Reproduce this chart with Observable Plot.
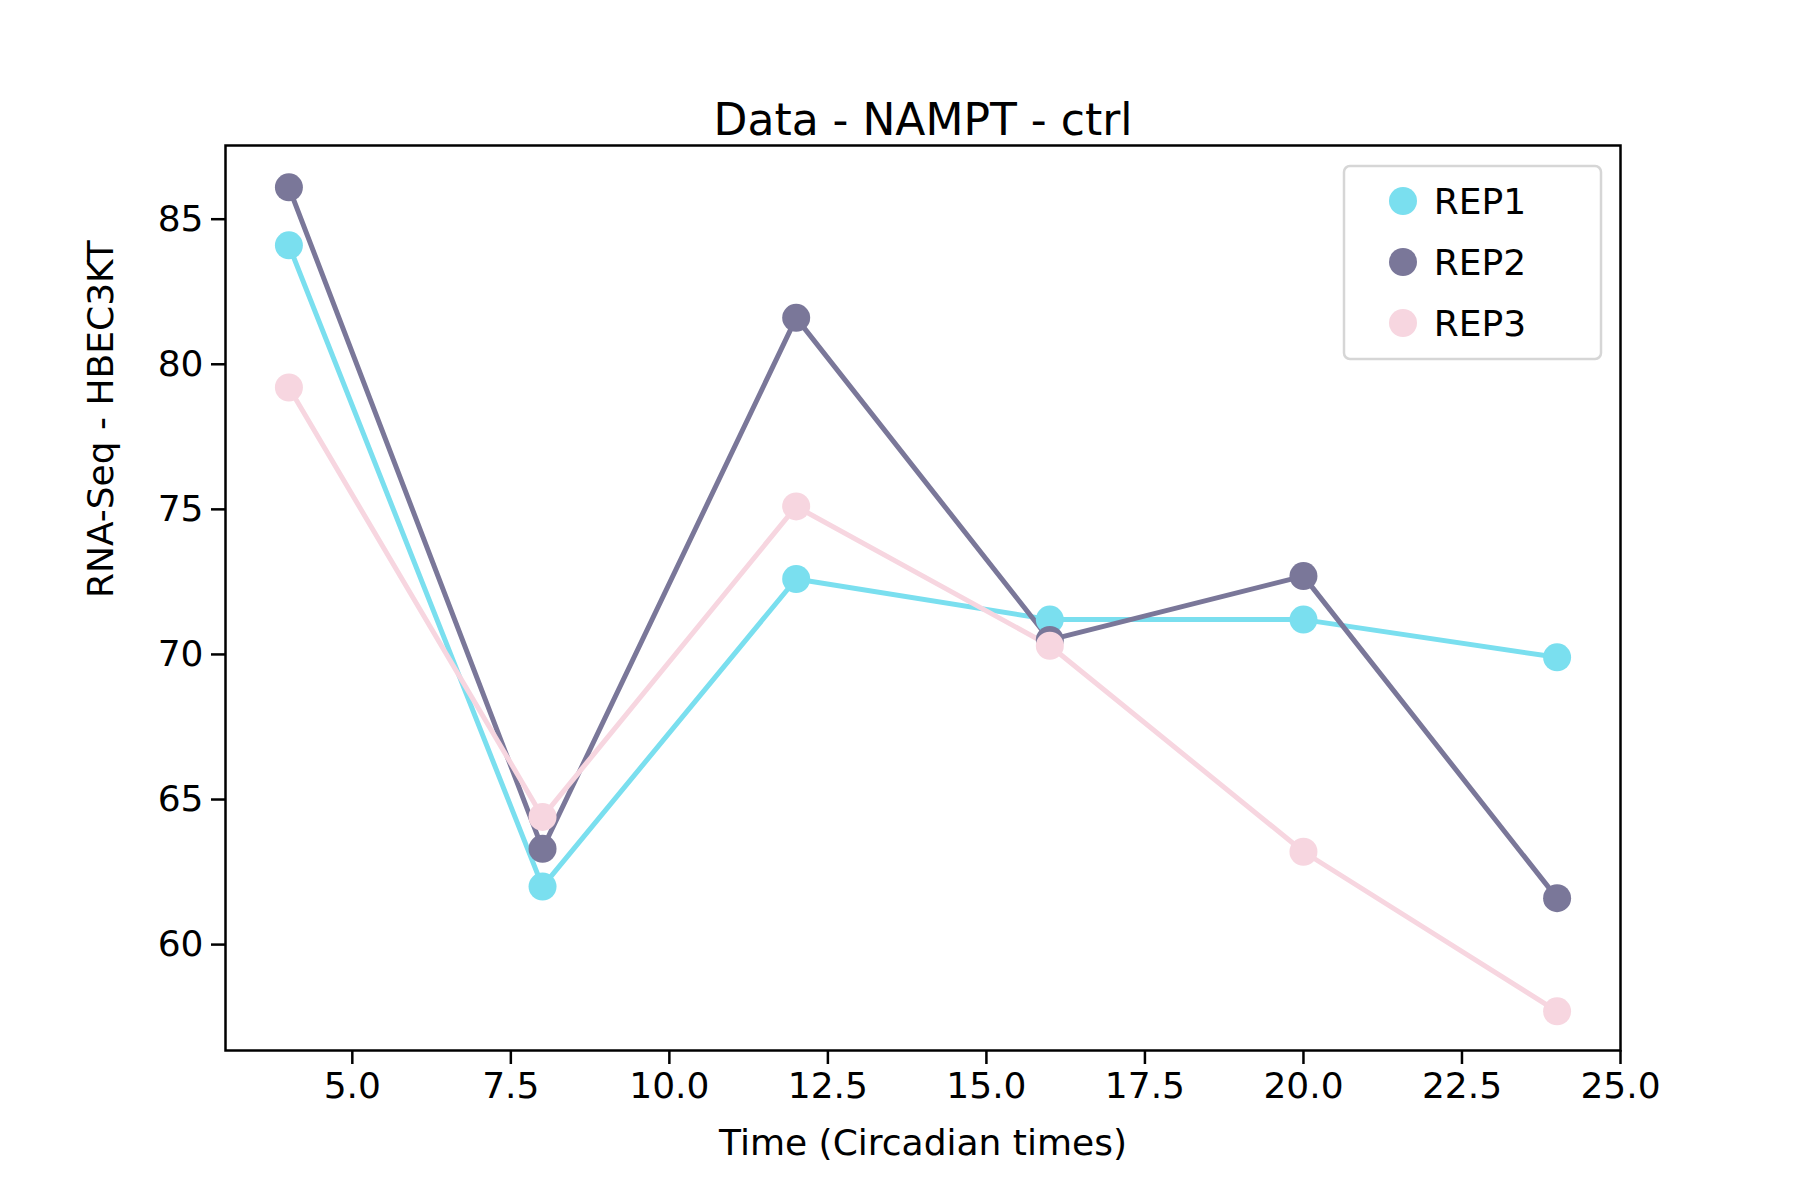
<!DOCTYPE html>
<html><head><meta charset="utf-8">
<script src="https://cdn.jsdelivr.net/npm/d3@7"></script>
<script src="https://cdn.jsdelivr.net/npm/@observablehq/plot@0.6"></script>
<style>body{margin:0;background:#fff}</style>
</head><body><div id="chart"></div>
<script>
const times = [4, 8, 12, 16, 20, 24];
const rep1 = [84.1, 62.0, 72.6, 71.2, 71.2, 69.9];
const rep2 = [86.1, 63.3, 81.6, 70.5, 72.7, 61.6];
const rep3 = [79.2, 64.4, 75.1, 70.3, 63.2, 57.7];
const seriesNames = ["REP1", "REP2", "REP3"];
const colors = ["#7adfef", "#7a7799", "#f7d6e0"];
const xTicks = [5, 7.5, 10, 12.5, 15, 17.5, 20, 22.5, 25];
const yTicks = [60, 65, 70, 75, 80, 85];

const rows = [];
[rep1, rep2, rep3].forEach((vals, i) => {
  vals.forEach((v, j) => rows.push({rep: seriesNames[i], t: times[j], v}));
});

const font = "'DejaVu Sans', sans-serif";
const plot = Plot.plot({
  width: 1800, height: 1200,
  marginLeft: 225, marginRight: 180, marginTop: 145, marginBottom: 150,
  style: {fontFamily: font, fontSize: "36px", color: "#000", background: "#fff"},
  x: {domain: [3, 25], ticks: xTicks, tickFormat: d3.format(".1f"), tickSize: 14, tickPadding: 8, label: null},
  y: {domain: [56.35, 87.54], ticks: yTicks, tickSize: 14, tickPadding: 8, label: null},
  color: {domain: seriesNames, range: colors},
  marks: [
    Plot.line(rows, {x: "t", y: "v", z: "rep", stroke: "rep", strokeWidth: 5}),
    Plot.dot(rows, {x: "t", y: "v", fill: "rep", r: 14}),
    Plot.frame({stroke: "#000", strokeWidth: 2.5}),
    Plot.text(["Data - NAMPT - ctrl"], {frameAnchor: "top", dy: -42, fontSize: 44, text: d => d}),
    Plot.text(["Time (Circadian times)"], {frameAnchor: "bottom", dy: 104, fontSize: 36, text: d => d}),
    Plot.text(["RNA-Seq - HBEC3KT"], {frameAnchor: "left", dx: -124, rotate: -90, fontSize: 36, text: d => d})
  ]
});

const svg = d3.select(plot);
svg.selectAll("[aria-label$='tick'] path").attr("stroke-width", 2.5);
const lg = svg.append("g").attr("font-family", font).attr("font-size", 36);
lg.append("rect").attr("x", 1344).attr("y", 166).attr("width", 257).attr("height", 193)
  .attr("rx", 6).attr("fill", "#fff").attr("stroke", "#d6d6d6").attr("stroke-width", 2.5);
seriesNames.forEach((n, i) => {
  const y = 201 + i * 61;
  lg.append("circle").attr("cx", 1403).attr("cy", y).attr("r", 14).attr("fill", colors[i]);
  lg.append("text").attr("x", 1480).attr("y", y).attr("dy", "0.35em").text(n);
});
document.getElementById("chart").append(plot);
</script></body></html>
